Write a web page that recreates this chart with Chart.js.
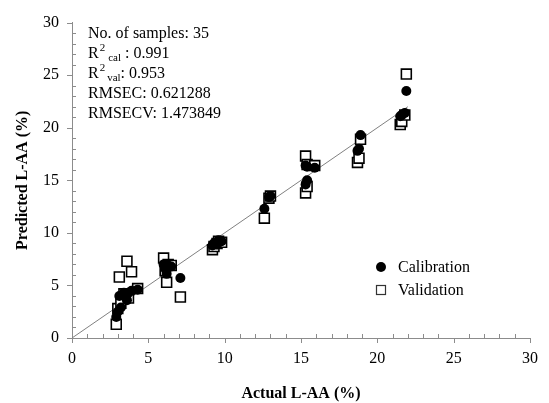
<!DOCTYPE html>
<html>
<head>
<meta charset="utf-8">
<script src="https://cdn.jsdelivr.net/npm/chart.js@4"></script>
<style>
  html, body { margin: 0; padding: 0; background: #fff; }
  #wrap { width: 549px; height: 403px; }
</style>
</head>
<body>
<div id="wrap"><canvas id="c" width="549" height="403"></canvas></div>
<script>
// sample values (actual L-AA, %)
const actual = [2.9, 3.0, 3.1, 3.2, 3.4, 3.6, 3.7, 3.9, 4.3,
                6.0, 6.1, 6.2, 6.3, 6.5, 7.1,
                9.2, 9.3, 9.5, 9.6, 9.8,
                12.6, 12.9, 13.0,
                15.3, 15.3, 15.4, 15.4, 15.9,
                18.7, 18.8, 18.9,
                21.5, 21.6, 21.8, 21.9];
// calibration predictions
const calPred = [2.0, 2.5, 4.0, 2.9, 4.3, 3.6, 4.3, 4.5, 4.6,
                 7.0, 6.6, 6.1, 6.9, 6.8, 5.7,
                 8.8, 9.0, 8.9, 9.3, 9.2,
                 12.3, 13.4, 13.5,
                 16.4, 14.6, 15.0, 16.3, 16.2,
                 17.8, 18.0, 19.3,
                 21.1, 21.2, 21.4, 23.5];
// validation predictions
const valPred = [1.3, 2.8, 5.8, 3.3, 4.2, 7.3, 3.8, 6.3, 4.7,
                 7.6, 6.4, 5.3, 7.0, 6.9, 3.9,
                 8.4, 8.7, 9.0, 9.2, 9.1,
                 11.4, 13.3, 13.5,
                 17.3, 13.8, 14.4, 16.5, 16.4,
                 16.7, 17.1, 18.9,
                 20.3, 20.6, 21.2, 25.1];
const lineX = [0, 22];
const tickLabels = [0, 5, 10, 15, 20, 25, 30];
const statLines = ['No. of samples: 35', 'R2cal: 0.991', 'R2val: 0.953', 'RMSEC: 0.621288', 'RMSECV: 1.473849'];

const serif = '"Liberation Serif", "Times New Roman", serif';

const calData = actual.map((x, i) => ({ x: x, y: calPred[i] }));
const valData = actual.map((x, i) => ({ x: x, y: valPred[i] }));
const lineData = lineX.map(x => ({ x: x, y: x }));

// minor / major ticks, stats box and legend
const extras = {
  id: 'extras',
  afterDraw(chart) {
    const ctx = chart.ctx;
    const xs = chart.scales.x, ys = chart.scales.y;
    const a = chart.chartArea;
    ctx.save();
    ctx.strokeStyle = '#8c8c8c';
    ctx.lineWidth = 1;
    ctx.beginPath();
    for (let v = 0; v <= 30; v++) {
      const px = Math.round(xs.getPixelForValue(v)) + 0.5;
      const py = Math.round(ys.getPixelForValue(v)) + 0.5;
      if (v % 5 === 0) {
        ctx.moveTo(px, a.bottom); ctx.lineTo(px, a.bottom + 5);
        ctx.moveTo(a.left, py); ctx.lineTo(a.left - 5, py);
      } else {
        ctx.moveTo(px, a.bottom); ctx.lineTo(px, a.bottom - 4);
        ctx.moveTo(a.left, py); ctx.lineTo(a.left + 4, py);
      }
    }
    ctx.stroke();

    // stats text
    ctx.fillStyle = '#000';
    ctx.textBaseline = 'alphabetic';
    ctx.textAlign = 'left';
    const x0 = 88;
    let y0 = 38;
    statLines.forEach((t, i) => {
      const y = y0 + i * 20;
      if (t.startsWith('R2')) {
        ctx.font = '16px ' + serif;
        ctx.fillText('R', x0, y);
        let w = ctx.measureText('R').width;
        ctx.font = '11px ' + serif;
        ctx.fillText('2', x0 + w + 1, y - 7);
        const sub = t.slice(2, 5);
        const w2 = w + 1 + ctx.measureText('2').width + (sub === 'cal' ? 3 : 2);
        ctx.fillText(sub, x0 + w2, y + 3);
        const w3 = w2 + ctx.measureText(sub).width;
        ctx.font = '16px ' + serif;
        ctx.fillText((sub === 'cal' ? ' ' : '') + t.slice(5), x0 + w3, y);
      } else {
        ctx.font = '16px ' + serif;
        ctx.fillText(t, x0, y);
      }
    });

    // legend
    ctx.font = '16px ' + serif;
    ctx.textBaseline = 'middle';
    ctx.beginPath();
    ctx.arc(381, 267, 5, 0, Math.PI * 2);
    ctx.fill();
    ctx.fillText('Calibration', 398, 268);
    ctx.lineWidth = 1.2;
    ctx.strokeStyle = '#333';
    ctx.strokeRect(376.5, 285.5, 9, 9);
    ctx.fillText('Validation', 398, 291);
    ctx.restore();
  }
};

new Chart(document.getElementById('c'), {
  type: 'scatter',
  data: {
    datasets: [
      {
        label: 'Calibration',
        data: calData,
        pointStyle: 'circle',
        pointRadius: 5,
        backgroundColor: '#000',
        borderColor: '#000',
        borderWidth: 0,
      },
      {
        label: 'Validation',
        data: valData,
        pointStyle: 'rect',
        pointRadius: 7,
        backgroundColor: '#fff',
        borderColor: '#000',
        borderWidth: 1.6,
      },
      {
        type: 'line',
        label: 'fit',
        data: lineData,
        borderColor: '#808080',
        borderWidth: 1,
        pointRadius: 0,
        fill: false,
      },
    ],
  },
  options: {
    responsive: false,
    animation: false,
    layout: { padding: { top: 17, right: 18, left: 0, bottom: 0 } },
    plugins: { legend: { display: false }, tooltip: { enabled: false } },
    scales: {
      x: {
        type: 'linear',
        min: 0, max: 30,
        afterFit(scale) { scale.height = 65; },
        afterBuildTicks(scale) { scale.ticks = tickLabels.map(v => ({ value: v })); },
        grid: { display: false, drawTicks: false },
        border: { display: true, color: '#8c8c8c', width: 1 },
        ticks: { color: '#000', padding: 11, maxRotation: 0, font: { family: serif, size: 16 } },
        title: { display: true, text: 'Actual L-AA (%)', color: '#000', padding: { top: 0, bottom: 0 },
                 font: { family: serif, size: 16, weight: 'bold' } },
      },
      y: {
        type: 'linear',
        min: 0, max: 30,
        afterFit(scale) { scale.width = 72; },
        afterBuildTicks(scale) { scale.ticks = tickLabels.map(v => ({ value: v })); },
        grid: { display: false, drawTicks: false },
        border: { display: true, color: '#8c8c8c', width: 1 },
        ticks: { color: '#000', padding: 13, font: { family: serif, size: 16 } },
        title: { display: true, text: 'Predicted L-AA (%)', color: '#000', padding: { top: 13, bottom: 0 },
                 font: { family: serif, size: 16, weight: 'bold' } },
      },
    },
  },
  plugins: [extras],
});
</script>
</body>
</html>
